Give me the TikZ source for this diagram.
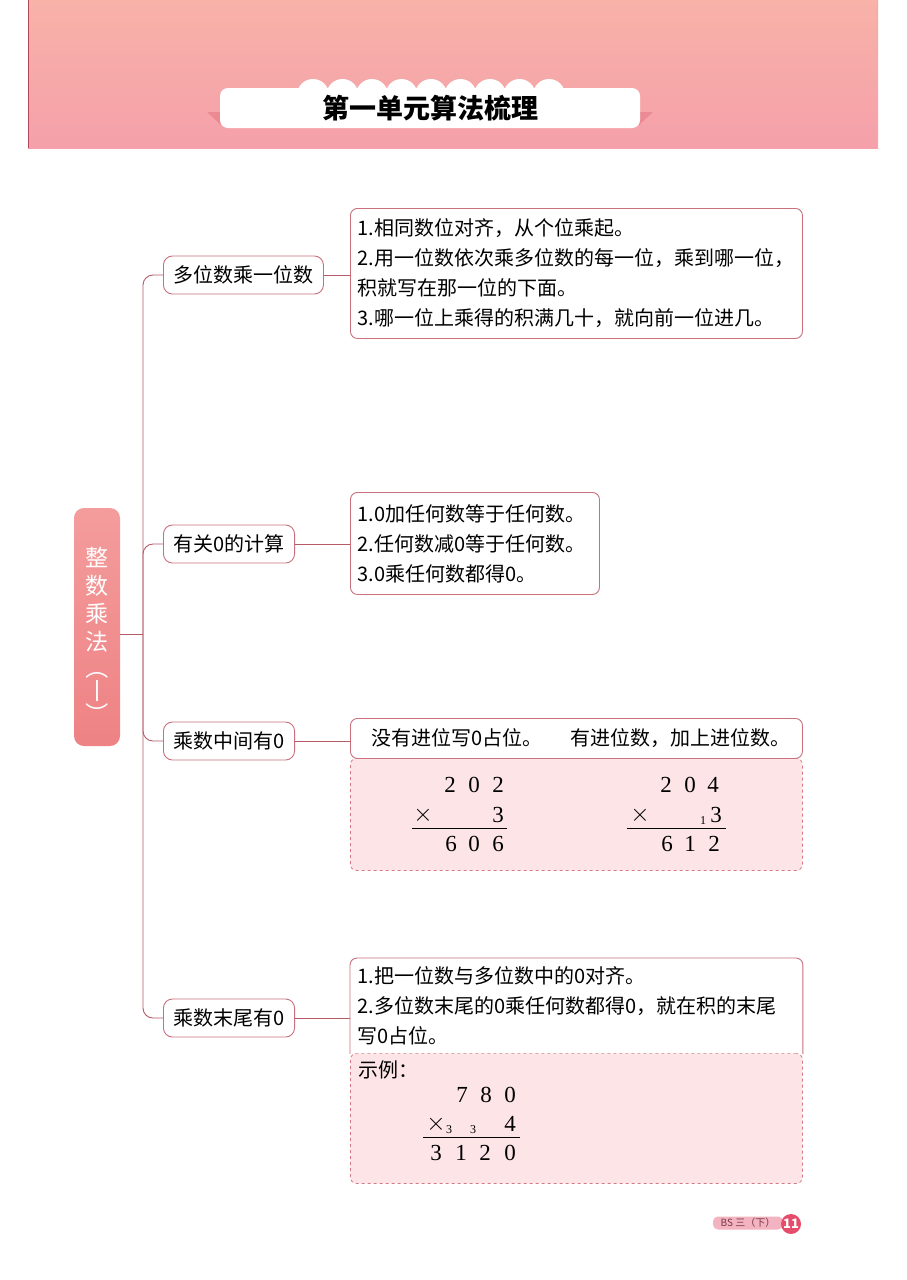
\documentclass[tikz,border=0pt]{standalone}
\usepackage{fontspec}
\setmainfont{Liberation Serif}
\newfontfamily\cjk{Noto Sans CJK SC}
\definecolor{bandtop}{HTML}{F8B2A8}
\definecolor{bandbot}{HTML}{F5A0AA}
\definecolor{edgered}{HTML}{B04858}
\definecolor{boxline}{HTML}{C9707C}
\definecolor{linkred}{HTML}{B65A66}
\definecolor{roottop}{HTML}{F49C9C}
\definecolor{rootbot}{HTML}{EE8284}
\definecolor{notepink}{HTML}{FCE4E7}
\definecolor{dashpink}{HTML}{D77A86}
\definecolor{tailpink}{HTML}{EC8A94}
\definecolor{tagpink}{HTML}{F3B3C0}
\definecolor{tagtext}{HTML}{7A3848}
\definecolor{pagered}{HTML}{E64D6B}

\begin{document}
\begin{tikzpicture}[x=1pt,y=-1pt,
  root/.style={rounded corners=10pt,top color=roottop,bottom color=rootbot,
    minimum width=46pt,minimum height=238pt,inner sep=0pt},
  roottext/.style={align=center,inner sep=0pt,text=white,
    font=\cjk\fontsize{23}{28}\selectfont},
  branch/.style={draw=boxline,line width=0.9pt,fill=white,rounded corners=9pt,
    anchor=west,minimum width=131pt,minimum height=38pt,inner xsep=10pt,
    font=\cjk\fontsize{20}{22}\selectfont},
  detail/.style={draw=boxline,line width=0.9pt,fill=white,rounded corners=7pt,
    anchor=north west,align=left,inner xsep=7pt,inner ysep=0pt,
    font=\cjk\fontsize{20}{30}\selectfont},
  notebox/.style={draw=dashpink,dashed,line width=0.8pt,fill=notepink,
    rounded corners=6pt,anchor=north west,minimum width=452pt,inner sep=0pt},
  digit/.style={font=\fontsize{23}{23}\selectfont,inner sep=0pt},
  times/.style={font=\fontsize{24}{24}\selectfont,inner sep=0pt},
  carry/.style={font=\fontsize{12}{12}\selectfont,inner sep=0pt},
  rule/.style={draw=black,line width=0.8pt},
  link/.style={draw=linkred,line width=0.9pt}]

\fill[white] (0,0) rectangle (906,1280);
\useasboundingbox (0,0) rectangle (906,1280);

% banner
\shade[top color=bandtop,bottom color=bandbot] (28,0) rectangle (878,148);
\draw[edgered,line width=1pt] (28,0) -- (28,148);
\draw[gray!50,line width=0.6pt] (877,0) -- (877,148);
\fill[tailpink] (207,112) -- (221,112) -- (221,125) -- cycle;
\fill[tailpink] (653,112) -- (639,112) -- (639,125) -- cycle;
\foreach \i in {0,...,8}
  \fill[white] (313+\i*29.5,95) circle (16pt);
\node[fill=white,rounded corners=8pt,minimum width=420pt,minimum height=40pt,
  font=\cjk\bfseries\fontsize{27}{30}\selectfont] (title) at (430,108) {第一单元算法梳理};

% mind map
\node[root] (root) at (97,627) {};
\node[roottext] (rootlabel) at (97,636) {整\\数\\乘\\法\\[3pt]\rotatebox[origin=c]{-90}{（一）}};

\node[branch] (b1) at (163,275) {多位数乘一位数};
\node[branch] (b2) at (163,544) {有关0的计算};
\node[branch] (b3) at (163,741) {乘数中间有0};
\node[branch] (b4) at (163,1018) {乘数末尾有0};

\coordinate (trunk) at (143,634);
\draw[link] (root.east |- trunk) -- (trunk);
\foreach \b in {b1,b2,b3,b4}
  \draw[link,rounded corners=10pt] (trunk) |- (\b.west);

\node[detail,text width=438pt,minimum height=130pt] (d1) at (350,208)
  {1.相同数位对齐，从个位乘起。\\2.用一位数依次乘多位数的每一位，乘到哪一位，\\积就写在那一位的下面。\\3.哪一位上乘得的积满几十，就向前一位进几。};
\node[detail,text width=235pt,minimum height=102pt] (d2) at (350,492)
  {1.0加任何数等于任何数。\\2.任何数减0等于任何数。\\3.0乘任何数都得0。};

\node[notebox,minimum height=112pt] (e3) at (350,758) {};
\node[detail,text width=438pt,minimum height=40pt] (d3) at (350,718)
  {\mbox{\hspace{14pt}没有进位写0占位。\hspace{28pt}有进位数，加上进位数。}};

\node[notebox,minimum height=130pt] (e4) at (350,1053) {};
\node[detail,draw=none,text width=438pt,minimum height=95pt] (d4) at (350,958)
  {1.把一位数与多位数中的0对齐。\\2.多位数末尾的0乘任何数都得0，就在积的末尾\\写0占位。};
\draw[boxline,line width=0.9pt,rounded corners=7pt] (d4.south west) |- (d4.north east) -- (d4.south east);

\draw[link] (b1.east) -- (b1.east -| d1.west);
\draw[link] (b2.east) -- (b2.east -| d2.west);
\draw[link] (b3.east) -- (b3.east -| d3.west);
\draw[link] (b4.east) -- (b4.east -| d4.west);

% 202 x 3
\foreach \d/\x in {2/450,0/474,2/498} \node[digit] (ra\x) at (\x,785) {\d};
\node[times] (xa) at (423,815) {$\times$};
\node[digit] (ma) at (498,815) {3};
\draw[rule] (412,828) -- (507,828);
\foreach \d/\x in {6/451,0/474,6/498} \node[digit] (sa\x) at (\x,844) {\d};

% 204 x 3
\foreach \d/\x in {2/666,0/690,4/713} \node[digit] (rb\x) at (\x,785) {\d};
\node[times] (xb) at (640,815) {$\times$};
\node[carry] (cb) at (703,821) {1};
\node[digit] (mb) at (716,815) {3};
\draw[rule] (627,828) -- (726,828);
\foreach \d/\x in {6/667,1/690,2/714} \node[digit] (sb\x) at (\x,844) {\d};

% 780 x 4
\node[anchor=west,inner sep=0pt,font=\cjk\fontsize{20}{22}\selectfont] (ex) at (358,1070) {示例：};
\foreach \d/\x in {7/462,8/486,0/510} \node[digit] (rc\x) at (\x,1095) {\d};
\node[times] (xc) at (436,1124) {$\times$};
\node[carry] (cc1) at (449,1130) {3};
\node[carry] (cc2) at (473,1130) {3};
\node[digit] (mc) at (510,1124) {4};
\draw[rule] (423,1137) -- (520,1137);
\foreach \d/\x in {3/436,1/461,2/485,0/510} \node[digit] (sc\x) at (\x,1153) {\d};

% page mark
\node[fill=tagpink,rounded corners=5pt,minimum width=70pt,minimum height=13pt,inner sep=0pt,
  text=tagtext,font=\cjk\fontsize{10}{11}\selectfont] (tag) at (748,1223) {BS 三（下）};
\node[circle,fill=pagered,minimum size=20pt,inner sep=0pt,text=white,
  font=\cjk\bfseries\fontsize{13}{13}\selectfont] (page) at (791,1224) {11};
\end{tikzpicture}
\end{document}
